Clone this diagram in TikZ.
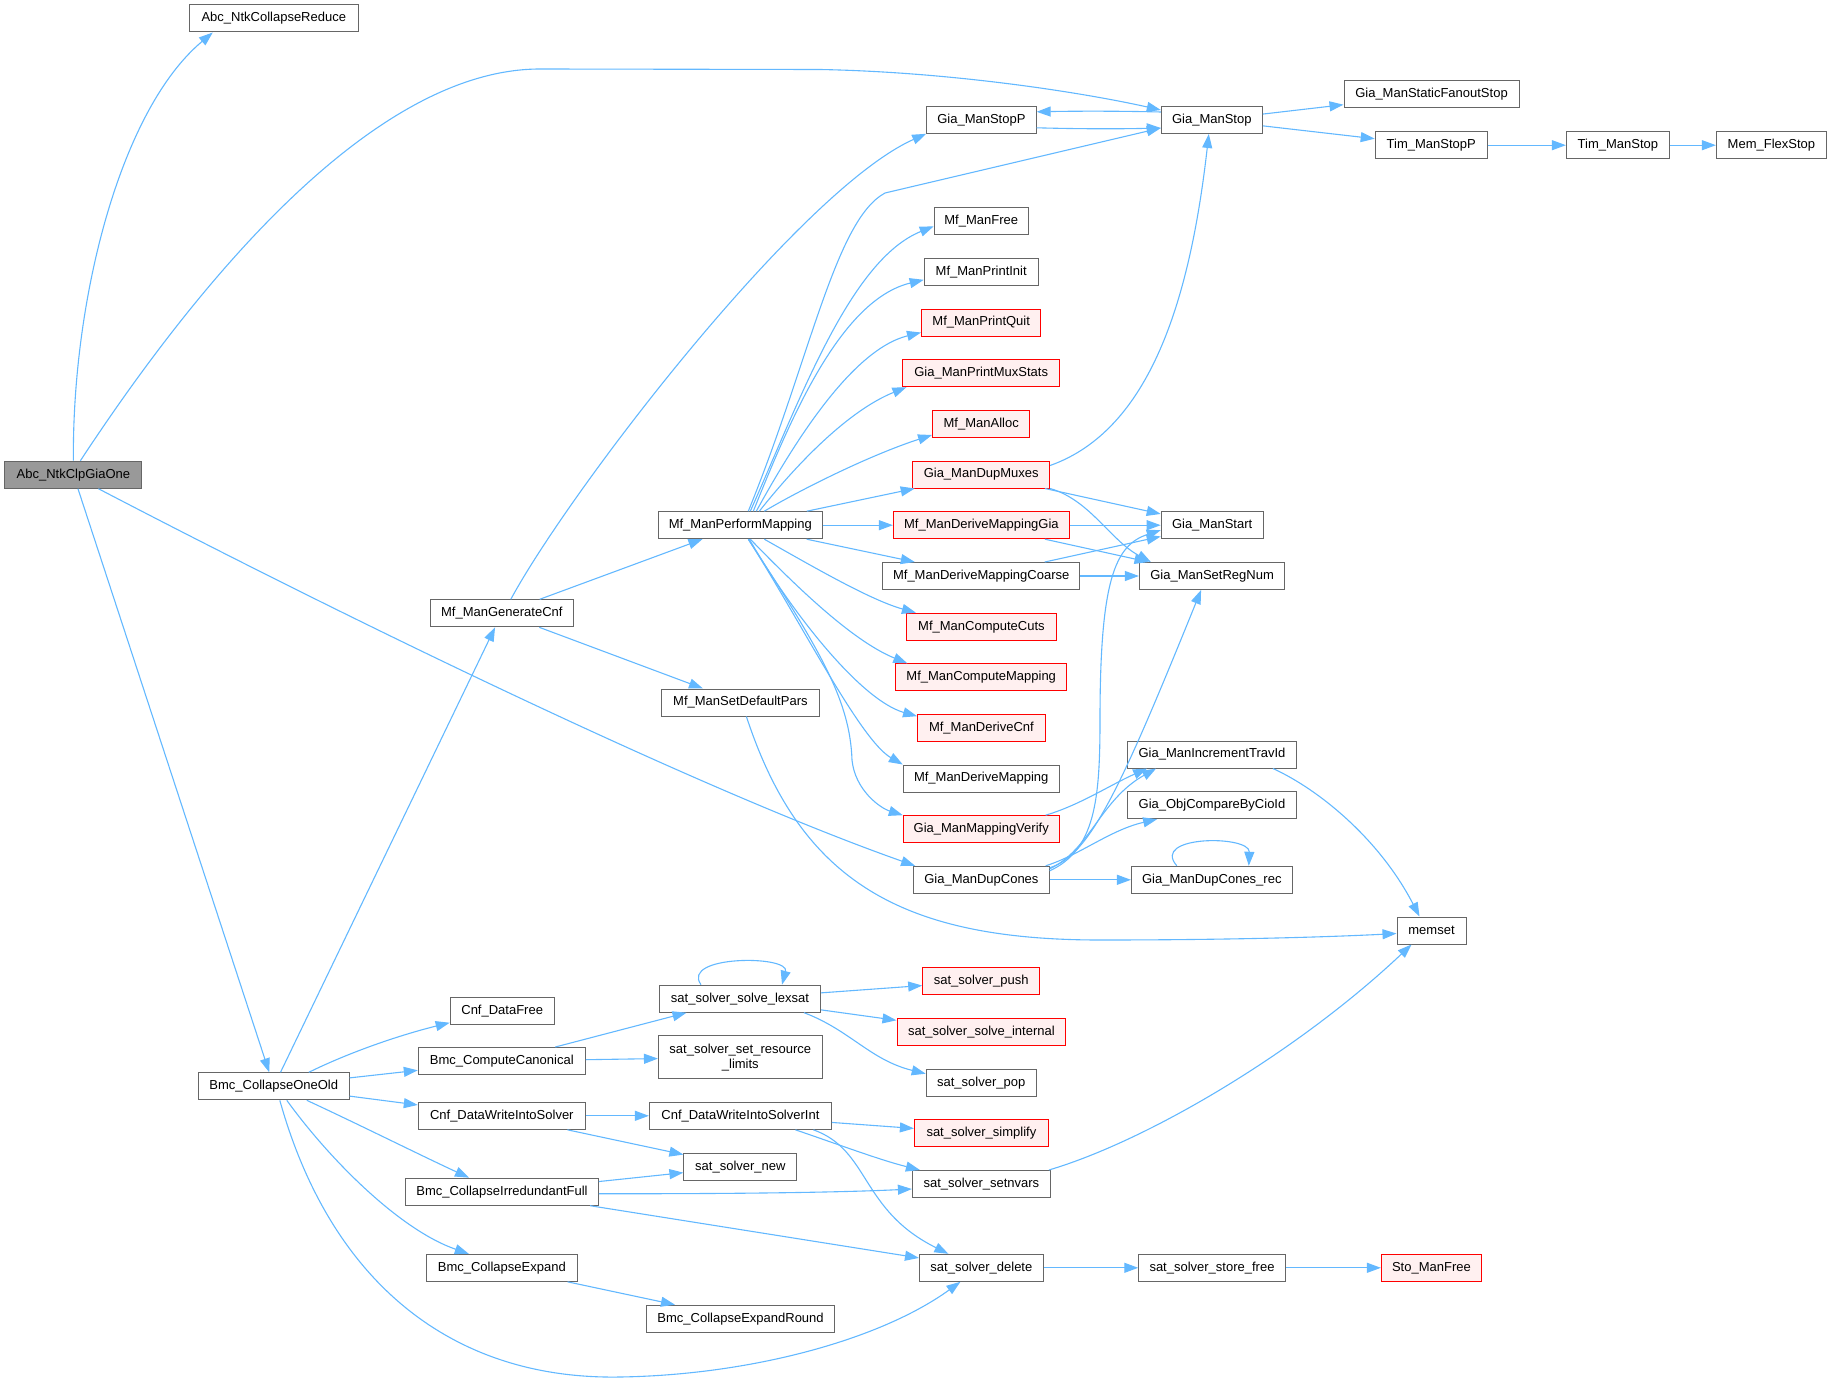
\documentclass[tikz,border=0pt]{standalone}
\usepackage{fontspec}
\setmainfont{Liberation Sans}
\usetikzlibrary{arrows.meta}
\definecolor{edgeblue}{HTML}{63B8FF}
\definecolor{boxgray}{HTML}{666666}
\definecolor{redfill}{HTML}{FFF0F0}
\definecolor{rootfill}{HTML}{999999}
\tikzset{
  box/.style={draw=boxgray, fill=white, line width=1pt, minimum height=27pt, inner sep=0pt, font=\fontsize{13}{15}\selectfont},
  redbox/.style={box, draw=red, fill=redfill},
  rootbox/.style={box, fill=rootfill},
  e/.style={draw=edgeblue, line width=1.1pt, -{Triangle[length=14pt,width=10pt]}}
}
\begin{document}
\begin{tikzpicture}[x=1pt,y=-1pt]
\useasboundingbox (0,0) rectangle (1832,1383);
% nodes
\node[box, minimum width=169] (cr) at (273.8,18.5) {Abc\_NtkCollapseReduce};
\node[rootbox, minimum width=137] (root) at (73.4,474.7) {Abc\_NtkClpGiaOne};
\node[box, minimum width=109.5] (gsp) at (981.4,119.8) {Gia\_ManStopP};
\node[box, minimum width=101] (gs) at (1211.8,120) {Gia\_ManStop};
\node[box, minimum width=175] (gsfs) at (1431.5,94.5) {Gia\_ManStaticFanoutStop};
\node[box, minimum width=112] (tsp) at (1431.2,145.2) {Tim\_ManStopP};
\node[box, minimum width=103] (ts) at (1617.9,145.2) {Tim\_ManStop};
\node[box, minimum width=110] (mfs) at (1771.4,145.2) {Mem\_FlexStop};
\node[box, minimum width=94] (mfree) at (981.2,221.3) {Mf\_ManFree};
\node[box, minimum width=114] (mpi) at (981.2,271.8) {Mf\_ManPrintInit};
\node[redbox, minimum width=119.4] (mpq) at (981.2,322.5) {Mf\_ManPrintQuit};
\node[redbox, minimum width=156.6] (pms) at (981.2,373.2) {Gia\_ManPrintMuxStats};
\node[redbox, minimum width=97.3] (malloc) at (981.2,424) {Mf\_ManAlloc};
\node[redbox, minimum width=136.8] (gdm) at (981.2,474.5) {Gia\_ManDupMuxes};
\node[box, minimum width=163.7] (pm) at (740.3,525.2) {Mf\_ManPerformMapping};
\node[redbox, minimum width=176] (dmg) at (981.4,525.2) {Mf\_ManDeriveMappingGia};
\node[box, minimum width=101.8] (gst) at (1212.1,525.2) {Gia\_ManStart};
\node[box, minimum width=197] (dmc) at (981.2,576) {Mf\_ManDeriveMappingCoarse};
\node[box, minimum width=145.4] (srn) at (1212.1,576) {Gia\_ManSetRegNum};
\node[box, minimum width=143] (gc) at (501.8,613.3) {Mf\_ManGenerateCnf};
\node[redbox, minimum width=150] (cc) at (981.4,626.7) {Mf\_ManComputeCuts};
\node[redbox, minimum width=170.8] (cm) at (981.2,677.3) {Mf\_ManComputeMapping};
\node[box, minimum width=157.4] (sdp) at (740.4,702.5) {Mf\_ManSetDefaultPars};
\node[redbox, minimum width=127.7] (dcnf) at (981.4,728.2) {Mf\_ManDeriveCnf};
\node[box, minimum width=168.8] (itid) at (1212,754.5) {Gia\_ManIncrementTravId};
\node[box, minimum width=155.8] (dm) at (981.2,778.5) {Mf\_ManDeriveMapping};
\node[box, minimum width=168.8] (cmp) at (1212,805.2) {Gia\_ObjCompareByCioId};
\node[redbox, minimum width=155.8] (mv) at (981.2,829.2) {Gia\_ManMappingVerify};
\node[box, minimum width=135.6] (dc) at (981.4,879.8) {Gia\_ManDupCones};
\node[box, minimum width=160.7] (dcr) at (1211.8,879.8) {Gia\_ManDupCones\_rec};
\node[box, minimum width=69] (mem) at (1431.5,930.5) {memset};
\node[box, minimum width=104] (cdf) at (502.2,1010.7) {Cnf\_DataFree};
\node[box, minimum width=161.3] (lex) at (740,998.7) {sat\_solver\_solve\_lexsat};
\node[redbox, minimum width=117] (push) at (981.2,981.3) {sat\_solver\_push};
\node[box, minimum width=167] (bcc) at (501.8,1061) {Bmc\_ComputeCanonical};
\node[box, minimum width=163.7, minimum height=43.3, align=center] (res) at (740.3,1057.3) {sat\_solver\_set\_resource\\\_limits};
\node[redbox, minimum width=168.8] (sint) at (981.4,1032) {sat\_solver\_solve\_internal};
\node[box, minimum width=110] (pop) at (981.2,1082.7) {sat\_solver\_pop};
\node[box, minimum width=150.5] (coo) at (273.8,1086.3) {Bmc\_CollapseOneOld};
\node[box, minimum width=167] (cdw) at (501.8,1115.8) {Cnf\_DataWriteIntoSolver};
\node[box, minimum width=182] (cdwi) at (740.4,1115.8) {Cnf\_DataWriteIntoSolverInt};
\node[redbox, minimum width=134] (simp) at (981.4,1133.3) {sat\_solver\_simplify};
\node[box, minimum width=113] (new) at (740.4,1166.7) {sat\_solver\_new};
\node[box, minimum width=192.6] (irr) at (502,1191.7) {Bmc\_CollapseIrredundantFull};
\node[box, minimum width=138] (snv) at (981.4,1184) {sat\_solver\_setnvars};
\node[box, minimum width=151] (exp) at (501.8,1267.8) {Bmc\_CollapseExpand};
\node[box, minimum width=123.8] (del) at (981.4,1267.8) {sat\_solver\_delete};
\node[box, minimum width=146.5] (ssf) at (1212,1267.8) {sat\_solver\_store\_free};
\node[redbox, minimum width=100] (sto) at (1431.4,1267.8) {Sto\_ManFree};
\node[box, minimum width=188.6] (er) at (740.6,1318.7) {Bmc\_CollapseExpandRound};
% edges from root
\draw[e] (root.north) .. controls (72,300) and (120,110) .. ([xshift=24pt]cr.south west);
\draw[e] ([xshift=7pt]root.north) .. controls (209,265) and (380,69) .. (540,69) -- (820,69.5) .. controls (950,72) and (1080,92) .. ([yshift=10pt]gs.west);
\draw[e] ([xshift=25pt]root.south) .. controls (350,620) and (700,790) .. ([xshift=2pt]dc.north west);
\draw[e] (root) -- (coo);
% GenerateCnf
\draw[e] (coo) -- (gc);
\draw[e] ([xshift=9pt]gc.north) .. controls (570,490) and (800,190) .. (gsp.south west);
\draw[e] (gc) -- (pm);
\draw[e] (gc) -- (sdp);
\draw[e] ([xshift=6pt]sdp.south) .. controls (800,880) and (900,940) .. (1100,940) .. controls (1250,940) and (1350,936) .. ([yshift=-3pt]mem.west);
% PerformMapping fan
\draw[e] ([xshift=8pt]pm.north) .. controls (810,360) and (835,220) .. (885,193) -- ([yshift=-8pt]gs.west);
\draw[e] ([xshift=10pt]pm.north) .. controls (800,400) and (850,260) .. ([yshift=-5pt]mfree.west);
\draw[e] ([xshift=13pt]pm.north) .. controls (790,420) and (840,300) .. ([yshift=-8pt]mpi.west);
\draw[e] ([xshift=16pt]pm.north) .. controls (790,450) and (850,350) .. ([yshift=-10pt]mpq.west);
\draw[e] ([xshift=19pt]pm.north) .. controls (800,460) and (850,410) .. ([xshift=4pt]pms.south west);
\draw[e] ([xshift=24pt]pm.north) .. controls (800,490) and (870,455) .. ([yshift=-11pt]malloc.west);
\draw[e] (pm) -- (gdm);
\draw[e] (pm) -- (dmg);
\draw[e] (pm) -- (dmc);
\draw[e] ([xshift=24pt]pm.south) .. controls (810,565) and (870,600) .. ([xshift=10pt]cc.north west);
\draw[e] ([xshift=10pt]pm.south) .. controls (790,580) and (850,640) .. ([xshift=12pt]cm.north west);
\draw[e] ([xshift=9pt]pm.south) .. controls (790,610) and (860,700) .. ([yshift=-2pt]dcnf.north west);
\draw[e] ([xshift=8pt]pm.south) .. controls (800,620) and (860,740) .. (dm.north west);
\draw[e] ([xshift=8pt]pm.south) .. controls (820,650) and (850,700) .. (852,760) .. controls (855,790) and (880,808) .. (mv.north west);
% Gia_ManStop group
\draw[e] ([yshift=-8pt]gsp.east) .. controls (1080,129) and (1120,129) .. ([yshift=-8pt]gs.west);
\draw[e] ([yshift=8pt]gs.west) .. controls (1120,111) and (1080,111) .. ([yshift=8pt]gsp.east);
\draw[e] (gs) -- (gsfs);
\draw[e] (gs) -- (tsp);
\draw[e] (tsp) -- (ts);
\draw[e] (ts) -- (mfs);
\draw[e] ([yshift=9pt]gdm.east) .. controls (1150,430) and (1190,300) .. ([xshift=-3pt]gs.south);
\draw[e] (gdm) -- (gst);
\draw[e] (gdm.south east) .. controls (1090,500) and (1110,540) .. ([xshift=12pt]srn.north west);
\draw[e] (dmg) -- (gst);
\draw[e] (dmg) -- (srn);
\draw[e] (dmc) -- (gst);
\draw[e] (dmc) -- (srn);
% DupCones
\draw[e] ([yshift=-5pt]dc.north east) .. controls (1095,850) and (1100,800) .. (1100,720) .. controls (1100,580) and (1115,545) .. ([yshift=-5pt]gst.west);
\draw[e] ([yshift=-2pt]dc.north east) .. controls (1090,855) and (1120,790) .. ([xshift=-11pt]srn.south);
\draw[e] ([yshift=-3pt]dc.north east) .. controls (1090,850) and (1100,800) .. ([xshift=29pt]itid.south west);
\draw[e] ([xshift=-14pt]mv.north east) .. controls (1080,805) and (1110,785) .. ([xshift=20pt]itid.south west);
\draw[e] ([xshift=-4pt]dc.north east) .. controls (1080,855) and (1110,830) .. ([xshift=30pt]cmp.south west);
\draw[e] (dc) -- (dcr);
\draw[e] ([xshift=-35pt]dcr.north) .. controls (1150,835) and (1250,835) .. ([xshift=37pt]dcr.north);
\draw[e] ([xshift=-24pt]itid.south east) .. controls (1320,790) and (1380,840) .. ([xshift=-12pt]mem.north);
% CollapseOneOld
\draw[e] ([xshift=35pt]coo.north) .. controls (350,1052) and (400,1035) .. ([yshift=-12pt]cdf.west);
\draw[e] (coo) -- (bcc);
\draw[e] (coo) -- (cdw);
\draw[e] ([xshift=33pt]coo.south) .. controls (360,1125) and (420,1155) .. ([xshift=-33pt]irr.north);
\draw[e] ([xshift=13pt]coo.south) .. controls (330,1160) and (400,1230) .. ([xshift=-33pt]exp.north);
\draw[e] ([xshift=6pt]coo.south) .. controls (330,1280) and (450,1380) .. (620,1377) .. controls (750,1375) and (880,1340) .. ([xshift=-21pt]del.south);
% solver
\draw[e] (bcc) -- (lex);
\draw[e] (bcc) -- (res);
\draw[e] (cdw) -- (cdwi);
\draw[e] (cdw) -- (new);
\draw[e] (irr) -- (new);
\draw[e] ([yshift=-2pt]irr.east) .. controls (750,1194) and (850,1192) .. ([yshift=-5pt]snv.west);
\draw[e] (irr) -- (del);
\draw[e] (exp) -- (er);
\draw[e] ([xshift=-39pt]lex.north) .. controls (680,955) and (790,955) .. ([xshift=42pt]lex.north);
\draw[e] (lex) -- (push);
\draw[e] (lex) -- (sint);
\draw[e] ([xshift=64pt]lex.south) .. controls (850,1030) and (870,1060) .. ([yshift=9pt]pop.west);
\draw[e] (cdwi) -- (simp);
\draw[e] ([xshift=55pt]cdwi.south) .. controls (840,1145) and (880,1160) .. ([xshift=8pt]snv.north west);
\draw[e] ([xshift=73pt]cdwi.south) .. controls (870,1150) and (860,1210) .. ([xshift=-33pt]del.north);
\draw[e] ([xshift=-2pt]snv.north east) .. controls (1150,1140) and (1300,1050) .. ([xshift=-20pt]mem.south);
\draw[e] (del) -- (ssf);
\draw[e] (ssf) -- (sto);
\end{tikzpicture}
\end{document}
